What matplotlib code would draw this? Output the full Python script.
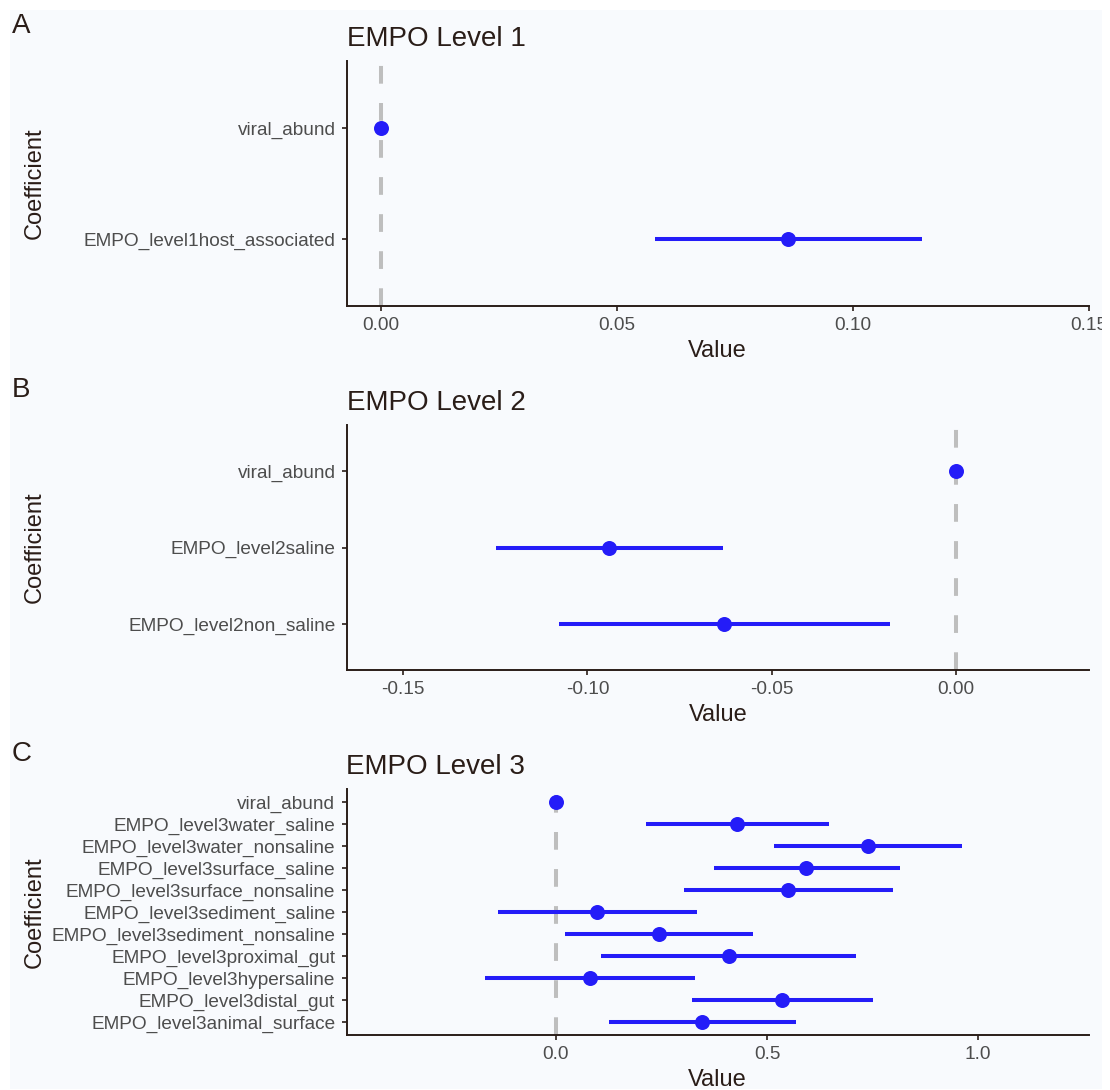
import matplotlib

matplotlib.use("Agg")
import matplotlib.pyplot as plt
from matplotlib.patches import Rectangle

W, H = 1110, 1090

# EMPO level 1 (bottom to top, as ggplot orders factors)
level1_terms = ["EMPO_level1host_associated", "viral_abund"]
level1_est = [0.0862, 0.0]
level1_low = [0.0581, 0.0]
level1_high = [0.1146, 0.0]
level1_ticks = [0.0, 0.05, 0.10, 0.15]
level1_ticklabels = ["0.00", "0.05", "0.10", "0.15"]

# EMPO level 2
level2_terms = ["EMPO_level2non_saline", "EMPO_level2saline", "viral_abund"]
level2_est = [-0.0630, -0.0941, 0.0]
level2_low = [-0.1078, -0.1249, 0.0]
level2_high = [-0.0180, -0.0632, 0.0]
level2_ticks = [-0.15, -0.10, -0.05, 0.0]
level2_ticklabels = ["-0.15", "-0.10", "-0.05", "0.00"]

# EMPO level 3
level3_terms = [
    "EMPO_level3animal_surface",
    "EMPO_level3distal_gut",
    "EMPO_level3hypersaline",
    "EMPO_level3proximal_gut",
    "EMPO_level3sediment_nonsaline",
    "EMPO_level3sediment_saline",
    "EMPO_level3surface_nonsaline",
    "EMPO_level3surface_saline",
    "EMPO_level3water_nonsaline",
    "EMPO_level3water_saline",
    "viral_abund",
]
level3_est = [0.347, 0.536, 0.081, 0.409, 0.243, 0.098, 0.550, 0.593, 0.740, 0.430, 0.0]
level3_low = [0.126, 0.322, -0.168, 0.107, 0.021, -0.137, 0.303, 0.374, 0.517, 0.213, 0.0]
level3_high = [0.569, 0.752, 0.329, 0.712, 0.467, 0.333, 0.798, 0.814, 0.963, 0.646, 0.0]
level3_ticks = [0.0, 0.5, 1.0]
level3_ticklabels = ["0.0", "0.5", "1.0"]

BG = "#f8fafd"
INK = "#2a1d18"
TICK_TXT = "#4d4d4d"
POINT = "#241cf8"
VLINE = "#bebebe"

plt.rcParams["font.family"] = ["Liberation Sans", "DejaVu Sans"]


def px_rect(left, top, right, bottom):
    return [left / W, 1 - bottom / H, (right - left) / W, (bottom - top) / H]


def draw_panel(fig, box, letter, title, terms, est, low, high, ticks, ticklabels, xlim):
    left, top, right, bottom = box
    ax = fig.add_axes(px_rect(left, top, right, bottom))
    ax.set_facecolor(BG)
    ypos = list(range(len(terms)))

    ax.axvline(0, color=VLINE, lw=2.9, dashes=(4.4, 4.8), zorder=1)
    ax.hlines(ypos, low, high, color=POINT, lw=2.9, capstyle="butt", zorder=2)
    ax.plot(est, ypos, "o", color=POINT, ms=10.8, mew=0, zorder=3)

    ax.set_xlim(*xlim)
    ax.set_ylim(-0.6, len(terms) - 0.4)
    ax.set_yticks(ypos)
    ax.set_yticklabels(terms)
    ax.set_xticks(ticks)
    ax.set_xticklabels(ticklabels)

    for side in ["top", "right"]:
        ax.spines[side].set_visible(False)
    for side in ["left", "bottom"]:
        ax.spines[side].set_color(INK)
        ax.spines[side].set_linewidth(1.4)
    ax.tick_params(axis="both", colors=INK, width=1.2, length=3.6,
                   labelsize=13.7, labelcolor=TICK_TXT)
    ax.tick_params(axis="y", pad=4.5)
    ax.tick_params(axis="x", pad=4)

    ax.set_xlabel("Value", fontsize=17, color=INK, va="baseline")
    ax.xaxis.set_label_coords(0.5, -51 / (bottom - top))
    ax.set_ylabel("Coefficient", fontsize=17, color=INK, va="baseline")
    ax.yaxis.set_label_coords((40.5 - left) / (right - left), 0.5)

    ax.set_title(title, loc="left", fontsize=20, color=INK, pad=10.8)
    fig.text(12 / W, 1 - (top - 28) / H, letter, fontsize=20, color=INK, va="baseline")
    return ax


fig = plt.figure(figsize=(W / 100, H / 100), dpi=100, facecolor="white")
fig.patches.append(Rectangle((10 / W, 1 / H), (1102 - 10) / W, 1 - 11 / H,
                             transform=fig.transFigure, facecolor=BG,
                             edgecolor="none", zorder=-5))

draw_panel(fig, (346.7, 61, 1088.7, 306), "A", "EMPO Level 1",
           level1_terms, level1_est, level1_low, level1_high,
           level1_ticks, level1_ticklabels, (-0.0072, 0.15))
draw_panel(fig, (346.7, 425, 1089.3, 670), "B", "EMPO Level 2",
           level2_terms, level2_est, level2_low, level2_high,
           level2_ticks, level2_ticklabels, (-0.1653, 0.0361))
draw_panel(fig, (346.5, 789, 1089, 1035), "C", "EMPO Level 3",
           level3_terms, level3_est, level3_low, level3_high,
           level3_ticks, level3_ticklabels, (-0.4964, 1.263))

# the reference clips the last tick label at the right edge of the canvas
fig.patches.append(Rectangle((1102 / W, 0), 8 / W, 1, transform=fig.transFigure,
                             facecolor="white", edgecolor="none", zorder=10))

fig.savefig("out.png", dpi=100, facecolor=fig.get_facecolor())
